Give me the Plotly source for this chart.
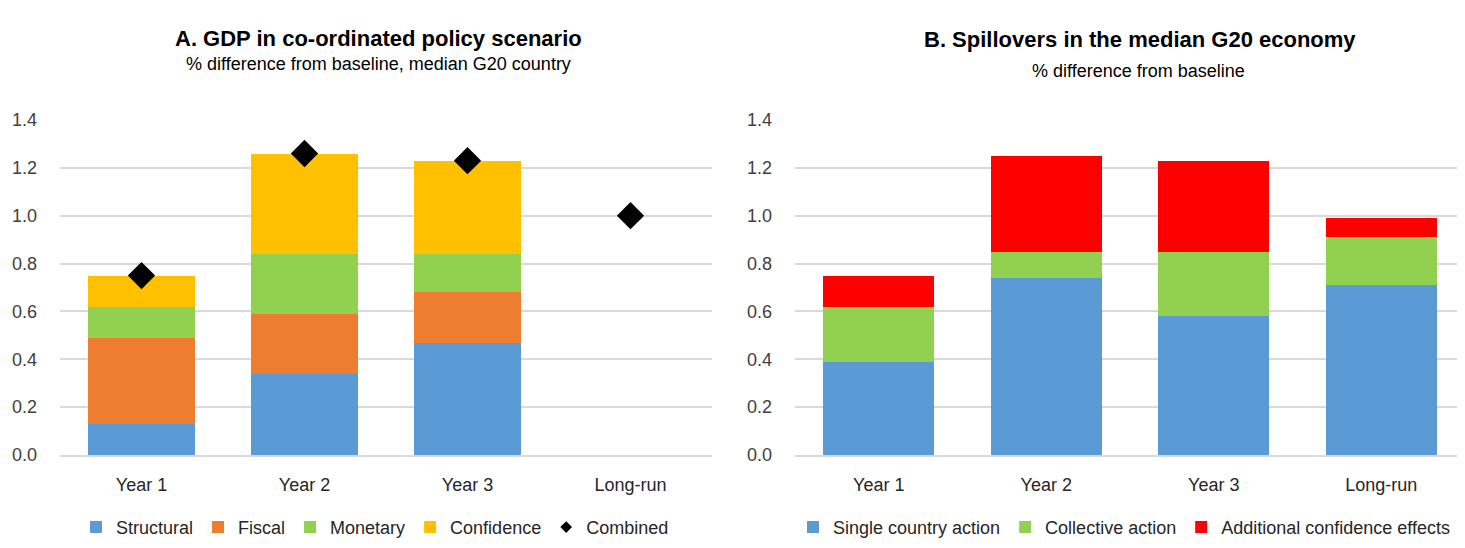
import plotly.graph_objects as go

periods = ["Year 1", "Year 2", "Year 3", "Long-run"]

# Panel A: GDP in co-ordinated policy scenario
structural = [0.13, 0.34, 0.47, None]
fiscal = [0.36, 0.25, 0.21, None]
monetary = [0.13, 0.25, 0.16, None]
confidence = [0.13, 0.42, 0.39, None]
combined = [0.75, 1.26, 1.23, 1.00]

# Panel B: Spillovers in the median G20 economy
single_country = [0.39, 0.74, 0.58, 0.71]
collective = [0.23, 0.11, 0.27, 0.20]
extra_confidence = [0.13, 0.40, 0.38, 0.08]

BLUE = "#5B9BD5"
ORANGE = "#ED7D31"
GREEN = "#92D050"
YELLOW = "#FFC000"
RED = "#FF0000"
FONT = "Liberation Sans, Arial, sans-serif"

# page body has an 8px margin, so the figure is 8px smaller and every
# target position (measured on the screenshot) is shifted by 8px
OFF = 8
W, H = 1465 - OFF, 548 - OFF


def px_x(x):
    return (x - OFF) / W


def px_y(y):
    return 1 - (y - OFF) / H


fig = go.Figure()

for name, vals, col in [("Structural", structural, BLUE), ("Fiscal", fiscal, ORANGE),
                        ("Monetary", monetary, GREEN), ("Confidence", confidence, YELLOW)]:
    fig.add_trace(go.Bar(x=periods, y=vals, name=name, marker_color=col,
                         marker_line_width=0, xaxis="x", yaxis="y", legend="legend"))

fig.add_trace(go.Scatter(x=periods, y=combined, mode="markers", showlegend=False,
                         marker=dict(symbol="diamond", size=21, color="black"),
                         xaxis="x", yaxis="y"))
# small diamond just for the legend entry
fig.add_trace(go.Scatter(x=[None], y=[None], mode="markers", name="Combined",
                         marker=dict(symbol="diamond", size=9, color="black"),
                         xaxis="x", yaxis="y", legend="legend"))

for name, vals, col in [("Single country action", single_country, BLUE),
                        ("Collective action", collective, GREEN),
                        ("Additional confidence effects", extra_confidence, RED)]:
    fig.add_trace(go.Bar(x=periods, y=vals, name=name, marker_color=col,
                         marker_line_width=0, xaxis="x2", yaxis="y2", legend="legend2"))

yax = dict(range=[0, 1.4], dtick=0.2, tickformat=".1f", showgrid=True,
           gridcolor="#D9D9D9", gridwidth=2, zeroline=False, automargin=False,
           ticklabelstandoff=22, tickfont=dict(size=18, color="#404040"),
           domain=[px_y(455), px_y(120)], fixedrange=True)
xax = dict(showgrid=False, showline=True, linecolor="#D9D9D9", linewidth=2,
           automargin=False, ticklabelstandoff=12,
           tickfont=dict(size=18, color="#262626"))

leg = dict(orientation="h", y=0.004, xanchor="center", yanchor="bottom",
           font=dict(size=18, color="#262626"), itemwidth=30, traceorder="normal")


def note(text, x, y, size):
    return dict(text=text, x=px_x(x), y=px_y(y), xref="paper", yref="paper",
                xanchor="center", yanchor="middle", showarrow=False,
                font=dict(size=size, color="black"))


fig.update_layout(
    width=W, height=H,
    margin=dict(l=0, r=0, t=0, b=0),
    paper_bgcolor="white", plot_bgcolor="white",
    font=dict(family=FONT, color="#262626"),
    barmode="stack", bargap=0.34,
    xaxis=dict(xax, domain=[px_x(60), px_x(712)]),
    yaxis=dict(yax, anchor="x"),
    xaxis2=dict(xax, domain=[px_x(795), 1.0], anchor="y2"),
    yaxis2=dict(yax, anchor="x2"),
    legend=dict(leg, x=px_x(375)),
    legend2=dict(leg, x=px_x(1124)),
    annotations=[
        note("<b>A. GDP in co-ordinated policy scenario</b>", 378, 38, 22),
        note("% difference from baseline, median G20 country", 378, 64, 18),
        note("<b>B. Spillovers in the median G20 economy</b>", 1140, 40, 22),
        note("% difference from baseline", 1138, 71, 18),
    ],
)

fig.write_html("out.html")
